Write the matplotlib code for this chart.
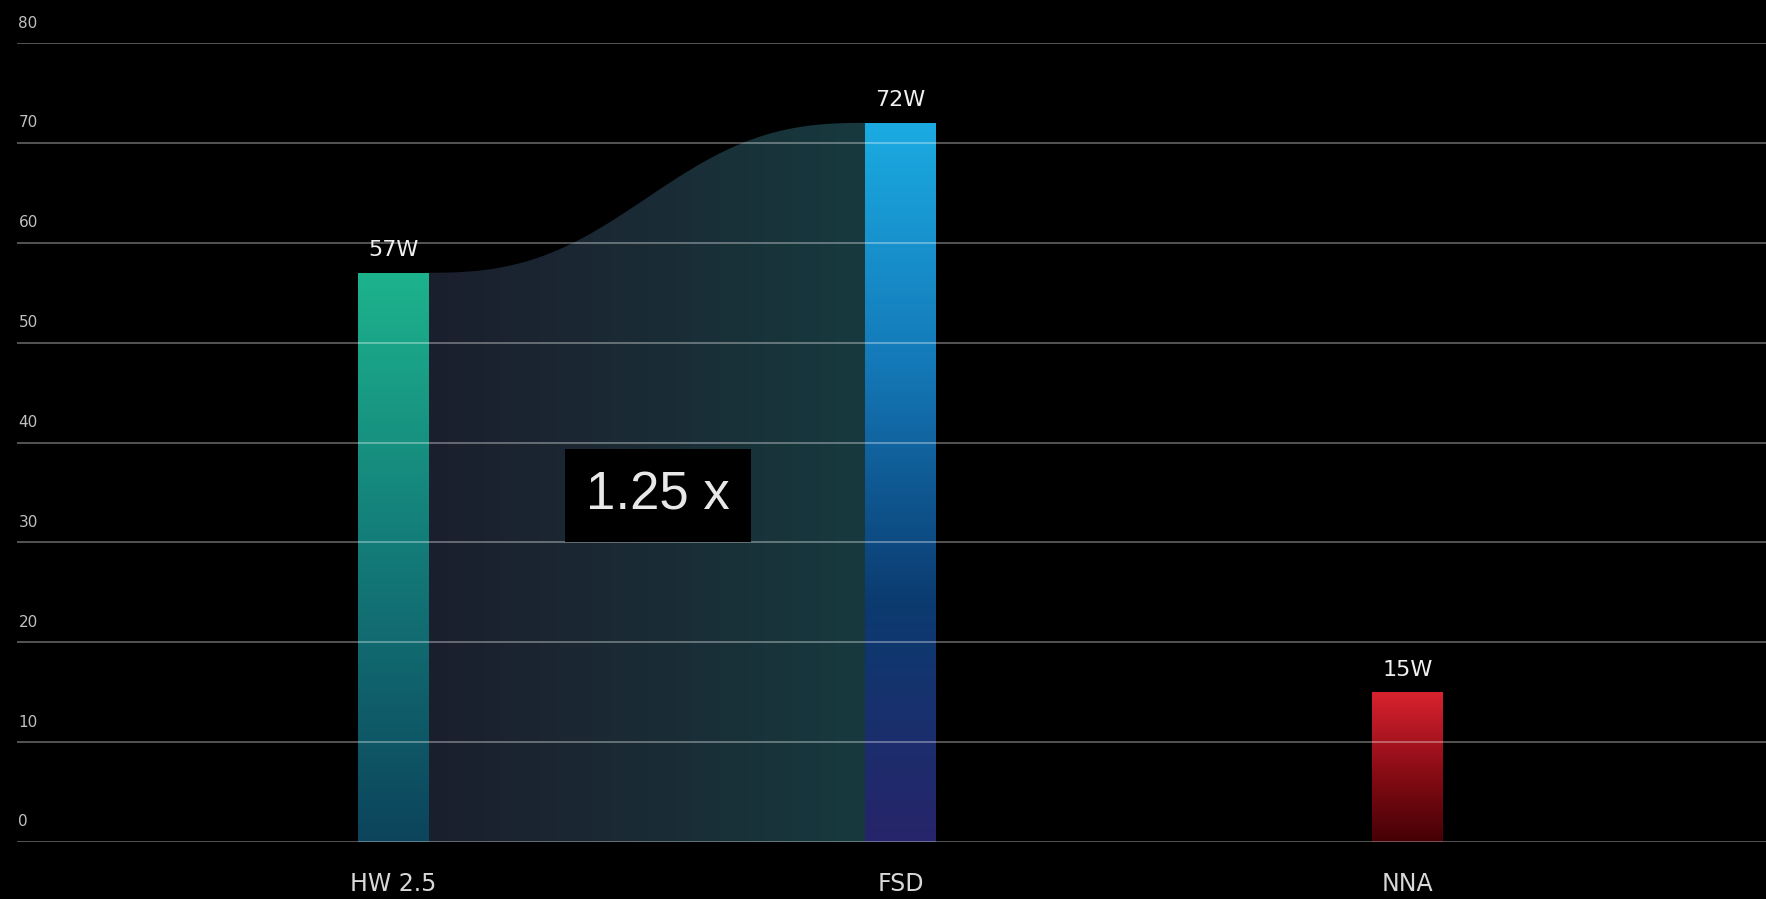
import numpy as np
import matplotlib
matplotlib.use("Agg")
import matplotlib.pyplot as plt
from matplotlib.colors import LinearSegmentedColormap
from matplotlib.patches import Polygon

# power draw per chip (W)
chips = ["HW 2.5", "FSD", "NNA"]
watts = [57, 72, 15]
value_labels = ["57W", "72W", "15W"]
yticks = [0, 10, 20, 30, 40, 50, 60, 70, 80]
ratio_label = "1.25 x"

# bar gradients, bottom -> top
bar_colors = [
    ["#0c445c", "#137a78", "#1db38d"],
    ["#27246a", "#0b3b70", "#1479b8", "#1babe2"],
    ["#440005", "#8e0d17", "#d9222f"],
]

W, H = 1766, 899
fig = plt.figure(figsize=(W / 100, H / 100), dpi=100, facecolor="black")
ax = fig.add_axes([17 / W, (H - 842) / H, 1 - 17 / W, (842 - 43) / H])
ax.set_facecolor("black")

x = np.arange(len(chips))
width = 0.14

# shaded band between HW 2.5 and FSD
x0 = x[0] + width / 2
x1 = x[1] - width / 2
xs = np.linspace(x0, x1, 300)
t = (xs - x0) / (x1 - x0)
s = t * t * (3 - 2 * t)
s = s ** 1.3 / (s ** 1.3 + (1 - s) ** 1.3)
ys = watts[0] + (watts[1] - watts[0]) * s
verts = np.column_stack([np.r_[x0, xs, x1], np.r_[0, ys, 0]])
band = Polygon(verts, closed=True, facecolor="none", edgecolor="none")
ax.add_patch(band)
band_cmap = LinearSegmentedColormap.from_list("band", ["#1b1f2d", "#1a2b35", "#173a3f"])
grad = np.linspace(0, 1, 256).reshape(1, -1)
im = ax.imshow(grad, cmap=band_cmap, extent=(x0, x1, 0, watts[1]),
               aspect="auto", origin="lower", zorder=1)
im.set_clip_path(band)

# gradient bars
bars = ax.bar(x, watts, width=width, facecolor="none", edgecolor="none", zorder=2)
for b, cols in zip(bars, bar_colors):
    cmap = LinearSegmentedColormap.from_list("b", cols)
    g = np.linspace(0, 1, 256).reshape(-1, 1)
    bi = ax.imshow(g, cmap=cmap, aspect="auto", origin="lower", zorder=2,
                   extent=(b.get_x(), b.get_x() + b.get_width(), 0, b.get_height()))
    bi.set_clip_path(b)

ax.set_xlim(-0.7426, 2.707)
ax.set_ylim(0, 80)

# grid lines over everything
for v in yticks:
    ax.axhline(v, color="white", alpha=0.33, lw=1.4, zorder=3)
    ax.annotate(str(v), xy=(0, v), xycoords=("axes fraction", "data"),
                xytext=(1, 9), textcoords="offset points", ha="left", va="bottom",
                color="#c0c0c0", fontsize=11, family="DejaVu Sans",
                annotation_clip=False)

for xi, v, lab in zip(x, watts, value_labels):
    ax.annotate(lab, xy=(xi, v), xytext=(0, 9), textcoords="offset points",
                ha="center", va="bottom", color="#f0f0f0", fontsize=16,
                family="DejaVu Sans", zorder=4)

for xi, lab in zip(x, chips):
    ax.annotate(lab, xy=(xi, 0), xytext=(0, -30), textcoords="offset points",
                ha="center", va="center", color="#d8d8d8", fontsize=17,
                family="DejaVu Sans", annotation_clip=False)

ax.text(0.5217, 34.7, ratio_label, ha="center", va="center", color="#e8e8e8",
        fontsize=38, family="Liberation Sans", zorder=5,
        bbox=dict(boxstyle="square,pad=0.4", facecolor="black", edgecolor="none"))

ax.set_xticks([])
ax.set_yticks([])
for sp in ax.spines.values():
    sp.set_visible(False)

fig.savefig("out.png", dpi=100, facecolor="black")
